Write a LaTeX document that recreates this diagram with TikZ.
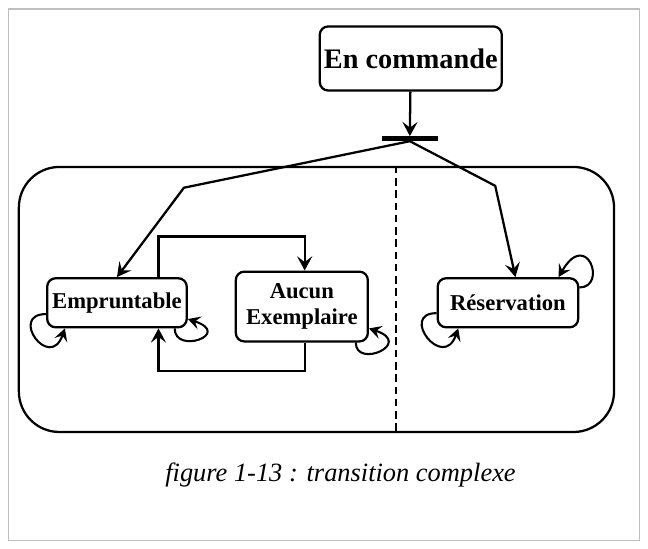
\documentclass[tikz,border=0pt]{standalone}
\usepackage{fontspec}
\setmainfont{Liberation Serif}
\usetikzlibrary{arrows.meta,positioning}
\tikzset{
		>={Stealth[length=15pt,width=16pt,inset=6pt]},
		etat/.style={draw,line width=2.4pt,rounded corners=9pt,align=center,inner sep=0pt,
			font=\bfseries\fontsize{24}{27}\selectfont},
		lien/.style={->,line width=2.4pt},
		boucle/.style={->,line width=2.2pt,>={Stealth[length=13pt,width=14pt,inset=5pt]}}
	}

\begin{document}
\begin{tikzpicture}[x=1pt,y=1pt] % 1 unit = 1 px of a 687x581 canvas
		\useasboundingbox (0,0) rectangle (687,581);
		\draw[black!25,line width=2pt] (9,8) rectangle (678,571);
		\node[draw,line width=2.4pt,rounded corners=43pt,minimum width=631pt,minimum height=281pt] (zone) at (335.5,263.5) {};
		\coordinate (sep) at (420,0);
		\draw[line width=2.6pt,dash pattern=on 8pt off 5pt] (zone.north -| sep) -- (zone.south -| sep);
		\node[etat,font=\bfseries\fontsize{30}{32}\selectfont,minimum width=193pt,minimum height=68pt] (cmd) at (435.5,519) {En commande};
		\node[fill,inner sep=0pt,minimum width=59pt,minimum height=5pt] (bar) at (434.5,434) {};
		\node[etat,minimum width=148pt,minimum height=52pt] (emp) at (124,260) {Empruntable};
		\node[etat,minimum width=140pt,minimum height=74pt] (aucun) at (320,256) {Aucun\\Exemplaire};
		\node[etat,minimum width=149pt,minimum height=52pt] (resa) at (538.5,260) {Réservation};
		\coordinate (coudeG) at (195,382);
		\coordinate (coudeD) at (525,384);
		% fourche
		\draw[lien] (cmd) -- (bar.north);
		\draw[lien] (bar.south) -- (coudeG) -- (emp.north);
		\draw[lien] (bar.south) -- (coudeD) -- ([xshift=8pt]resa.north);
		% aller-retour
		\draw[lien] ([xshift=44pt]emp.north) |- ([xshift=3pt,yshift=36pt]aucun.north) -- ([xshift=3pt]aucun.north);
		\draw[lien] ([xshift=3pt]aucun.south) -- ++(0,-30) -| ([xshift=44pt]emp.south);
		% boucles
		\draw[boucle] ([yshift=-12pt]emp.west) .. controls +(-40,0) and +(-16,-46) .. ([xshift=20pt]emp.south west);
		\draw[boucle] ([xshift=-14pt]emp.south east) .. controls +(0,-28) and +(48,-16) .. ([yshift=10pt]emp.south east);
		\draw[boucle] ([xshift=-14pt]aucun.south east) .. controls +(0,-28) and +(48,-16) .. ([yshift=15pt]aucun.south east);
		\draw[boucle] ([yshift=-11pt]resa.west) .. controls +(-40,0) and +(-16,-46) .. ([xshift=23pt]resa.south west);
		\draw[boucle] ([yshift=-11pt]resa.north east) .. controls +(30,0) and +(30,52) .. ([xshift=-22pt]resa.north east);
		\node[font=\itshape\fontsize{28}{30}\selectfont,anchor=base] (legende) at (361,71) {figure 1-13 : transition complexe};
	\end{tikzpicture}
\end{document}
